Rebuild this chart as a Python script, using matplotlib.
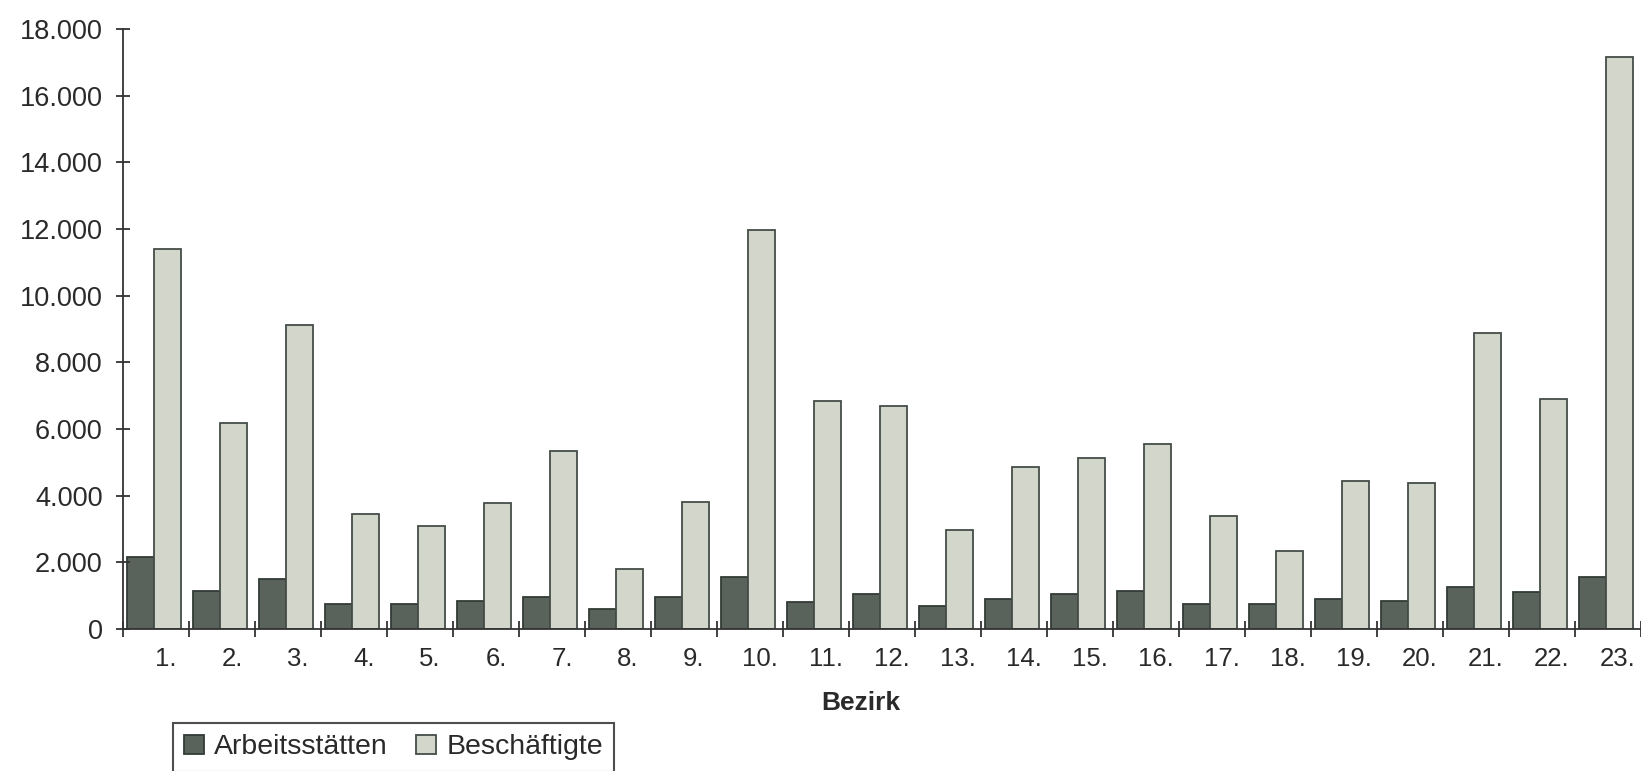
import numpy as np
import matplotlib.pyplot as plt
from matplotlib.ticker import FuncFormatter

plt.rcParams['font.family'] = ['Liberation Sans', 'DejaVu Sans']

# Bezirke 1. - 23.
bezirke = [f'{i}.' for i in range(1, 24)]

arbeitsstaetten = [2150, 1150, 1500, 750, 750, 850, 950, 600, 950, 1550, 800, 1050,
                   700, 900, 1050, 1150, 750, 750, 900, 850, 1250, 1100, 1550]
beschaeftigte = [11400, 6190, 9130, 3440, 3100, 3780, 5340, 1800, 3800, 11970, 6840, 6690,
                 2970, 4870, 5120, 5560, 3400, 2340, 4440, 4380, 8880, 6900, 17150]

fig = plt.figure(figsize=(16.41, 7.71), dpi=100)
ax = fig.add_axes([0.075, 0.184, 0.925, 0.7784])

x = np.arange(len(bezirke)) + 0.5
w = 0.41
ax.bar(x - w / 2 - 0.03, arbeitsstaetten, width=w, color='#59635c', edgecolor='#333b36',
       linewidth=1.3, label='Arbeitsstätten')
ax.bar(x + w / 2 - 0.03, beschaeftigte, width=w, color='#d3d6cb', edgecolor='#454d48',
       linewidth=1.3, label='Beschäftigte')

ax.set_xlim(0, len(bezirke))
ax.set_ylim(0, 18000)
ax.set_yticks(np.arange(0, 18001, 2000))
ax.yaxis.set_major_formatter(FuncFormatter(lambda v, p: f'{int(v):,}'.replace(',', '.')))

# ticks on group boundaries, labels centred under groups
ax.set_xticks(np.arange(0, len(bezirke) + 1))
ax.set_xticklabels([])
ax.set_xticks(x + 0.15, minor=True)
ax.set_xticklabels(bezirke, minor=True)
ax.tick_params(axis='x', which='major', direction='inout', length=11, width=1.3, color='#333333')
ax.tick_params(axis='x', which='minor', length=0, pad=13, labelsize=18.5, labelcolor='#2a2a2a')
ax.tick_params(axis='y', direction='inout', length=9.5, width=1.3, color='#333333',
               labelsize=19.5, labelcolor='#2a2a2a', pad=10)

for s in ['top', 'right']:
    ax.spines[s].set_visible(False)
for s in ['left', 'bottom']:
    ax.spines[s].set_color('#333333')
    ax.spines[s].set_linewidth(1.3)

ax.set_xlabel('Bezirk', fontsize=19, fontweight='bold', color='#2a2a2a')
ax.xaxis.set_label_coords(0.486, -0.103)

leg = fig.legend(loc='upper left', bbox_to_anchor=(0.1054, 0.0623), ncol=2, fontsize=20.5,
                 frameon=True, fancybox=False, edgecolor='#222222', handlelength=0.7,
                 handleheight=0.65, handletextpad=0.35, columnspacing=1.0, borderpad=0.4,
                 borderaxespad=0, labelcolor='#2a2a2a')
leg.get_frame().set_linewidth(1.5)

fig.savefig('out.png', dpi=100)
